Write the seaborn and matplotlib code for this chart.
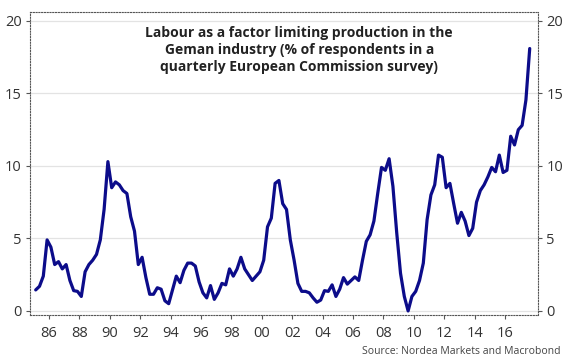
'''
    Labour as a factor limiting production in German industry
'''
import numpy as np
import pandas as pd
import seaborn as sns
import matplotlib.pyplot as plt

# quarterly readings, 1985Q1 .. 2017Q3 (% of respondents)
start_year = 1985
labour_share = [
    1.45, 1.7, 2.4, 4.9, 4.4, 3.2, 3.4, 2.9, 3.2, 2.1,
    1.4, 1.35, 1.0, 2.7, 3.2, 3.5, 3.9, 4.9, 7.0, 10.3,
    8.5, 8.9, 8.7, 8.3, 8.1, 6.5, 5.5, 3.2, 3.7, 2.3,
    1.15, 1.15, 1.6, 1.5, 0.7, 0.5, 1.45, 2.4, 1.95, 2.8,
    3.3, 3.3, 3.1, 2.0, 1.25, 0.9, 1.75, 0.8, 1.25, 1.9,
    1.8, 2.9, 2.4, 2.9, 3.7, 2.9, 2.5, 2.1, 2.4, 2.7,
    3.5, 5.8, 6.4, 8.8, 9.0, 7.4, 7.0, 4.9, 3.5, 1.9,
    1.35, 1.35, 1.25, 0.9, 0.6, 0.75, 1.4, 1.35, 1.8, 1.0,
    1.5, 2.3, 1.85, 2.1, 2.35, 2.1, 3.5, 4.8, 5.25, 6.2,
    8.1, 9.9, 9.7, 10.5, 8.6, 5.4, 2.6, 1.0, 0.0, 1.0,
    1.35, 2.1, 3.3, 6.3, 8.0, 8.7, 10.75, 10.6, 8.5, 8.8,
    7.4, 6.05, 6.8, 6.2, 5.2, 5.7, 7.5, 8.3, 8.7, 9.25,
    9.9, 9.6, 10.75, 9.55, 9.7, 12.05, 11.45, 12.5, 12.8, 14.55,
    18.1,
]
tick_years = list(range(1986, 2017, 2))
tick_labels = [f"{y % 100:02d}" for y in tick_years]
y_ticks = [0, 5, 10, 15, 20]

title = ("Labour as a factor limiting production in the\n"
         "Geman industry (% of respondents in a\n"
         "quarterly European Commission survey)")
source = "Source: Nordea Markets and Macrobond"

# quarter mid-points as decimal years
df = pd.DataFrame({'value': labour_share})
df['year'] = start_year + 0.125 + 0.25 * np.arange(len(df))

sns.set_style("white")
plt.rcParams['font.family'] = ['Open Sans', 'DejaVu Sans']

fig = plt.figure(figsize=(5.7, 3.64), dpi=100)
ax = fig.add_axes([30 / 570, 1 - 315 / 364, 508 / 570, 303 / 364])

sns.lineplot(data=df, x='year', y='value', ax=ax, color='#0c0c8a', linewidth=2.3)

ax.set_xlim(1984.75, 2018.17)
ax.set_ylim(-0.28, 20.62)
ax.set_xticks(tick_years)
ax.set_xticklabels(tick_labels)
ax.set_yticks(y_ticks)
ax.set_xlabel('')
ax.set_ylabel('')

# light horizontal grid
for v in y_ticks:
    ax.axhline(v, color='#e3e3e3', linewidth=0.9, zorder=0)

for side in ['left', 'right', 'top', 'bottom']:
    ax.spines[side].set_visible(True)
    ax.spines[side].set_linestyle((0, (1, 1.5)))
    ax.spines[side].set_linewidth(0.8)
    ax.spines[side].set_color('#555555')

ax.tick_params(axis='y', left=True, right=True, labelright=True, length=3,
               width=0.8, color='#555555', labelsize=10.5, labelcolor='#333333', pad=3)
ax.tick_params(axis='x', bottom=True, length=3, width=0.8, color='#555555',
               labelsize=10.5, labelcolor='#333333', pad=5)

ax.text(0.53, 0.955, title, transform=ax.transAxes, ha='center', va='top',
        fontsize=10, fontweight='bold', color='#222222', linespacing=1.3)

fig.text(560 / 570, 1 - 352 / 364, source, ha='right', va='center',
         fontsize=7.5, color='#444444')

fig.savefig('out.png', dpi=100)
